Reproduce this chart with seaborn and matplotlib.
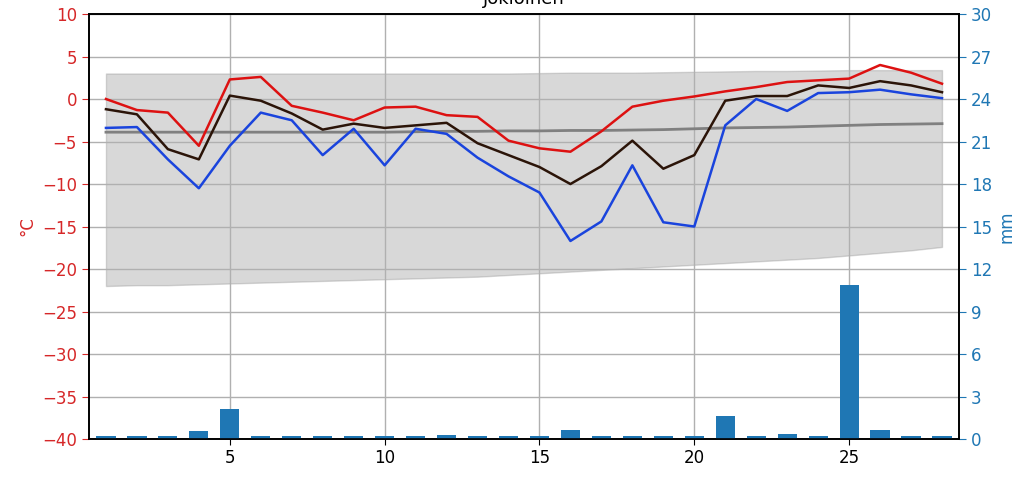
import matplotlib
matplotlib.use('Agg')
import matplotlib.pyplot as plt
import pandas as pd
import seaborn as sns

# Data (February, Jokioinen)
days = list(range(1, 29))
t_max = [0.0, -1.3, -1.6, -5.5, 2.3, 2.6, -0.8, -1.6, -2.5, -1.0, -0.9, -1.9, -2.1, -4.9,
         -5.8, -6.2, -3.8, -0.9, -0.2, 0.3, 0.9, 1.4, 2.0, 2.2, 2.4, 4.0, 3.1, 1.8]
t_mean = [-1.2, -1.8, -5.9, -7.1, 0.4, -0.2, -1.7, -3.6, -2.9, -3.4, -3.1, -2.8, -5.2, -6.6,
          -8.0, -10.0, -7.9, -4.9, -8.2, -6.6, -0.2, 0.35, 0.35, 1.6, 1.3, 2.1, 1.6, 0.8]
t_min = [-3.4, -3.3, -7.1, -10.5, -5.5, -1.6, -2.5, -6.6, -3.5, -7.8, -3.5, -4.1, -6.9, -9.1,
         -11.0, -16.7, -14.4, -7.8, -14.5, -15.0, -3.1, 0.0, -1.4, 0.7, 0.8, 1.1, 0.55, 0.1]
clim_mean = [-3.9, -3.9, -3.9, -3.9, -3.9, -3.9, -3.9, -3.9, -3.9, -3.9, -3.85, -3.8, -3.8, -3.75,
             -3.75, -3.7, -3.7, -3.65, -3.6, -3.5, -3.4, -3.35, -3.3, -3.2, -3.1, -3.0, -2.95, -2.9]
clim_high = [3.0, 3.0, 3.0, 3.0, 3.0, 3.0, 3.0, 3.0, 3.0, 3.0, 3.0, 3.0, 3.0, 3.0,
             3.05, 3.1, 3.1, 3.1, 3.15, 3.2, 3.25, 3.3, 3.3, 3.35, 3.4, 3.4, 3.4, 3.4]
clim_low = [-22.0, -21.9, -21.9, -21.8, -21.7, -21.6, -21.5, -21.4, -21.3, -21.2, -21.1, -21.0,
            -20.9, -20.7, -20.5, -20.3, -20.1, -19.9, -19.7, -19.5, -19.3, -19.1, -18.9, -18.7,
            -18.4, -18.1, -17.8, -17.4]
precip = [0.2, 0.2, 0.2, 0.6, 2.1, 0.2, 0.2, 0.2, 0.2, 0.2, 0.2, 0.3, 0.2, 0.2,
          0.2, 0.65, 0.2, 0.2, 0.2, 0.2, 1.6, 0.2, 0.35, 0.2, 10.9, 0.65, 0.2, 0.2]

df = pd.DataFrame({'day': days, 'max': t_max, 'mean': t_mean, 'min': t_min,
                   'clim': clim_mean, 'hi': clim_high, 'lo': clim_low, 'rain': precip})

red_lab = '#d62728'
blue_lab = '#1f77b4'

fig = plt.figure(figsize=(10.34, 4.83), dpi=100)
ax = fig.add_axes([0.086, 0.091, 0.8415, 0.880])
ax2 = ax.twinx()

# climatology band and mean
ax.fill_between(df['day'], df['lo'], df['hi'], color='gray', alpha=0.3, linewidth=1, zorder=1)
sns.lineplot(data=df, x='day', y='clim', color='#808080', linewidth=2, ax=ax, zorder=2)

# daily temperatures
sns.lineplot(data=df, x='day', y='max', color='#dd1111', linewidth=1.8, ax=ax, zorder=3)
sns.lineplot(data=df, x='day', y='mean', color='#2b1408', linewidth=1.8, ax=ax, zorder=3)
sns.lineplot(data=df, x='day', y='min', color='#1a44dd', linewidth=1.8, ax=ax, zorder=3)

# precipitation bars
sns.barplot(data=df, x='day', y='rain', native_scale=True, width=0.62, color=blue_lab,
            saturation=1, ax=ax2)

ax.set_xlim(0.45, 28.55)
ax2.set_xlim(0.45, 28.55)
ax.set_ylim(-40, 10)
ax.set_yticks(range(-40, 11, 5))
ax2.set_ylim(0, 30)
ax2.set_yticks(range(0, 31, 3))
ax.set_xticks([5, 10, 15, 20, 25])
ax.set_xticklabels(['5', '10', '15', '20', '25'])

ax.grid(True, color='#b0b0b0', linewidth=1)
ax2.grid(False)

ax.set_xlabel('')
ax2.set_xlabel('')
ax.set_ylabel('°C', color=red_lab, fontsize=12)
ax2.set_ylabel('mm', color=blue_lab, fontsize=12)
ax.tick_params(axis='y', colors=red_lab, labelsize=12, length=5)
ax.tick_params(axis='x', labelsize=12, length=4)
ax2.tick_params(axis='y', colors=blue_lab, labelsize=12, length=5)
for a in (ax, ax2):
    for s in a.spines.values():
        s.set_color('black')
        s.set_linewidth(1.2)

ax.set_title('Jokioinen', fontsize=13, pad=7)

fig.savefig('out.png', dpi=100)
